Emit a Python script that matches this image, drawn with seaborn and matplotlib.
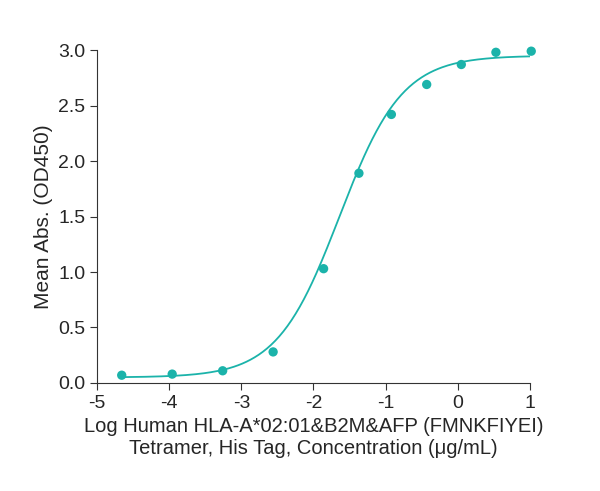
import numpy as np
import matplotlib
matplotlib.use('Agg')
import matplotlib.pyplot as plt
import seaborn as sns

log_conc = [-4.66, -3.96, -3.26, -2.56, -1.86, -1.37, -0.92, -0.43, 0.05, 0.53, 1.02]
mean_abs = [0.07, 0.08, 0.11, 0.28, 1.03, 1.89, 2.42, 2.69, 2.87, 2.98, 2.99]

# 4PL fit parameters
fit_bottom, fit_top, fit_ec50, fit_hill = 0.05, 2.95, -1.64, 1.0

teal = '#1bb3aa'
sns.set_style('ticks')
plt.rcParams['font.family'] = ['Liberation Sans', 'DejaVu Sans']

fig = plt.figure(figsize=(6, 4.91), dpi=100)
ax = fig.add_axes([0.162, 0.22, 0.721, 0.678])

xs = np.linspace(-4.66, 1.02, 300)
ys = fit_bottom + (fit_top - fit_bottom) / (1 + 10 ** (fit_hill * (fit_ec50 - xs)))
sns.lineplot(x=xs, y=ys, color=teal, lw=1.3, ax=ax)
pts = sns.scatterplot(x=log_conc, y=mean_abs, color=teal, s=45, edgecolor='none', ax=ax, zorder=3)
for c in ax.collections:
    c.set_clip_on(False)

ax.set_xlim(-5, 1)
ax.set_ylim(0, 3.0)
ax.set_xticks(range(-5, 2))
ax.set_xticklabels(['-5', '-4', '-3', '-2', '-1', '0', '1'])
ax.set_yticks(np.arange(0, 3.01, 0.5))
ax.set_yticklabels([f'{v:.1f}' for v in np.arange(0, 3.01, 0.5)])
ax.tick_params(labelsize=14, color='#333333', length=5)
sns.despine(ax=ax)
for s in ['left', 'bottom']:
    ax.spines[s].set_color('#333333')
ax.set_ylabel('Mean Abs. (OD450)', fontsize=15)
ax.set_xlabel('Log Human HLA-A*02:01&B2M&AFP (FMNKFIYEI)\nTetramer, His Tag, Concentration (μg/mL)', fontsize=14.5)
fig.savefig('out.png', dpi=100)
